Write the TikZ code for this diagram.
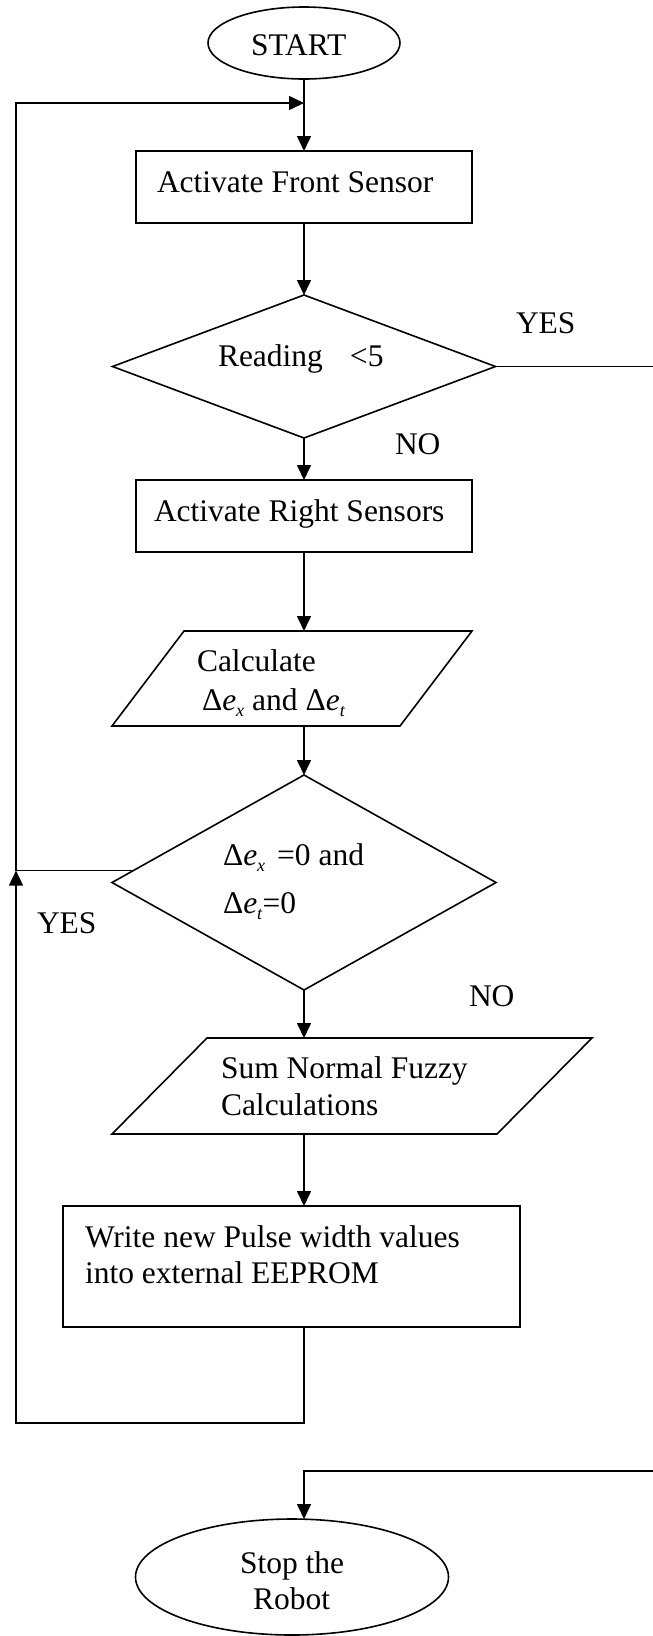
\documentclass[tikz,border=0pt]{standalone}
\usepackage{fontspec}
\setmainfont{Liberation Serif}
\usetikzlibrary{arrows.meta,shapes.geometric,calc}
% Delta e with an italic subscript
\newcommand{\dlte}[1]{Δ\textit{e}\raisebox{-6pt}{\fontsize{18pt}{18pt}\selectfont\textit{#1}}}

\begin{document}
\begin{tikzpicture}[x=1pt,y=-1pt,
  every node/.style={inner sep=0pt, outer sep=0pt},
  shp/.style={draw, line width=1.6pt},
  terminal/.style={shp, ellipse},
  procbox/.style={shp, rectangle},
  decision/.style={shp, diamond},
  iobox/.style={rectangle, draw=none},
  outline/.style={line width=1.6pt, line join=miter},
  lbl/.style={anchor=base west, font=\fontsize{31.5pt}{36pt}\selectfont},
  ln/.style={line width=1.6pt},
  arr/.style={line width=1.6pt, -{Triangle[length=15pt,width=14pt]}}]

\useasboundingbox (0,0) rectangle (653,1636);

% ---- shapes ----
\node[terminal, minimum width=192pt, minimum height=72pt] (start) at (304,43) {};
\node[lbl] (tstart) at (251,55) {START};

\node[procbox, minimum width=336pt, minimum height=72pt] (front) at (304,187) {};
\node[lbl] (tfront) at (157,192) {Activate Front Sensor};

\node[decision, minimum width=383pt, minimum height=143pt] (rd) at (304,366.5) {};
\node[lbl] (trd) at (218,366) {Reading\hspace{27pt}<5};

\node[procbox, minimum width=336pt, minimum height=72pt] (right) at (304,516) {};
\node[lbl] (tright) at (154,521) {Activate Right Sensors};

% input/output box 1
\node[iobox, minimum width=360pt, minimum height=95pt] (calc) at (292,678.5) {};
\draw[outline] ([xshift=72pt]calc.north west) -- (calc.north east)
  -- ([xshift=-72pt]calc.south east) -- (calc.south west) -- cycle;
\node[lbl] (tcalc1) at (197,671) {Calculate};
\node[lbl] (tcalc2) at (202,710) {\dlte{x} and\hspace{8pt}\dlte{t}};

\node[decision, minimum width=384pt, minimum height=215pt] (zero) at (304,882.5) {};
\node[lbl] (tzero1) at (223,865) {\dlte{x}\hspace{12pt}=0 and};
\node[lbl] (tzero2) at (223,913) {\dlte{t}=0};

% input/output box 2
\node[iobox, minimum width=480pt, minimum height=96pt] (fuzzy) at (352,1086) {};
\draw[outline] ([xshift=95pt]fuzzy.north west) -- (fuzzy.north east)
  -- ([xshift=-95pt]fuzzy.south east) -- (fuzzy.south west) -- cycle;
\node[lbl] (tfuzzy1) at (221,1078) {Sum Normal Fuzzy};
\node[lbl] (tfuzzy2) at (221,1115) {Calculations};

\node[procbox, minimum width=457pt, minimum height=121pt] (write) at (291.5,1266.5) {};
\node[lbl] (twrite1) at (85,1247) {Write new Pulse width values};
\node[lbl] (twrite2) at (85,1283) {into external EEPROM};

\node[terminal, minimum width=313pt, minimum height=116pt] (stop) at (292,1577) {};
\node[lbl] (tstop1) at (240,1573) {Stop the};
\node[lbl] (tstop2) at (253,1609) {Robot};

% ---- labels on branches ----
\node[lbl] (yes1) at (516,333) {YES};
\node[lbl] (no1) at (395,454) {NO};
\node[lbl] (yes2) at (37,933) {YES};
\node[lbl] (no2) at (469,1006) {NO};

% ---- helper points ----
\coordinate (join) at (304,103);
\coordinate (lft) at (16,103);
\coordinate (bot) at (16,1423);
\coordinate (redge) at (658,1471);

% ---- connectors ----
\draw[arr] (start.south) -- (front.north);
\draw[arr] (front.south) -- (rd.north);
\draw[arr] (rd.south) -- (right.north);
\draw[arr] (right.south) -- (right.south |- calc.north);
\draw[arr] (zero.north |- calc.south) -- (zero.north);
\draw[arr] (zero.south) -- (zero.south |- fuzzy.north);
\draw[arr] (zero.south |- fuzzy.south) -- (zero.south |- write.north);

% YES branch of the first test: off to the right and down to the end
\draw[arr] (rd.east) -| (redge) -- (redge -| join) -- (stop.north -| join);

% YES branch of the second test: back to the top of the loop
\draw[arr] (zero.176) -| (lft) -- (join);

% after writing, return into the loop
\draw[arr] (write.south -| join) |- (bot) -- (bot |- zero.176);

\end{tikzpicture}
\end{document}
